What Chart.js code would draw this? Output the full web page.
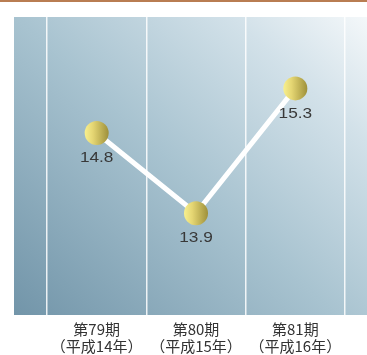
<!DOCTYPE html>
<html>
<head>
<meta charset="utf-8">
<script src="https://cdn.jsdelivr.net/npm/chart.js@4.4.1/dist/chart.umd.min.js"></script>
<style>
  html, body { margin: 0; padding: 0; background: #ffffff; }
  #wrap { width: 367px; height: 355px; position: relative; }
</style>
</head>
<body>
<div id="wrap"><canvas id="c" width="367" height="355"></canvas></div>
<script>
// Fiscal periods and their values
const periods = ['第79期', '第80期', '第81期'];
const years = ['（平成14年）', '（平成15年）', '（平成16年）'];
const values = [14.8, 13.9, 15.3];
const valueLabels = ['14.8', '13.9', '15.3'];
const yRange = [12.76, 16.1];

const JP_FONT = '"Noto Sans CJK JP", "Noto Sans", sans-serif';
const NUM_FONT = '"Liberation Sans", Arial, sans-serif';

// Panel background, brown top rule
const panelPlugin = {
  id: 'panel',
  beforeDraw(chart) {
    const { ctx, chartArea: a, width } = chart;
    ctx.save();
    ctx.fillStyle = '#b97d52';
    ctx.fillRect(0, 0, width, 2);
    const left = a.left - 33, right = width, top = a.top, bottom = a.bottom;
    const g = ctx.createLinearGradient(left, bottom, right - 20, top - 60);
    g.addColorStop(0, '#7295a9');
    g.addColorStop(0.45, '#a8c3d0');
    g.addColorStop(0.75, '#d2e1e9');
    g.addColorStop(1, '#ffffff');
    ctx.fillStyle = g;
    ctx.fillRect(left, top, right - left, bottom - top);
    ctx.restore();
  }
};

// Golden markers, value labels and two-line period labels
const markerPlugin = {
  id: 'markers',
  afterDatasetsDraw(chart) {
    const { ctx, chartArea: a } = chart;
    const meta = chart.getDatasetMeta(0);
    const xs = chart.scales.x;
    ctx.save();
    meta.data.forEach((pt) => {
      const r = 12;
      const g = ctx.createLinearGradient(pt.x - r, pt.y, pt.x + r, pt.y);
      g.addColorStop(0, '#f8f08e');
      g.addColorStop(0.35, '#e4d572');
      g.addColorStop(1, '#9e903a');
      ctx.beginPath();
      ctx.arc(pt.x, pt.y, r, 0, Math.PI * 2);
      ctx.fillStyle = g;
      ctx.fill();
    });
    ctx.fillStyle = '#383838';
    ctx.font = '15px ' + NUM_FONT;
    ctx.textAlign = 'center';
    ctx.textBaseline = 'middle';
    meta.data.forEach((pt, i) => {
      ctx.save();
      ctx.translate(pt.x, pt.y + 25);
      ctx.scale(1.15, 1);
      ctx.fillText(valueLabels[i], 0, 0);
      ctx.restore();
    });
    ctx.fillStyle = '#333333';
    ctx.font = '15px ' + JP_FONT;
    periods.forEach((p, i) => {
      const x = xs.getPixelForValue(i);
      ctx.fillText(p, x, a.bottom + 14);
      ctx.fillText(years[i], x, a.bottom + 31);
    });
    ctx.restore();
  }
};

new Chart(document.getElementById('c'), {
  type: 'line',
  data: {
    labels: periods,
    datasets: [{
      data: values,
      borderColor: '#ffffff',
      borderWidth: 5,
      pointRadius: 0,
      tension: 0
    }]
  },
  options: {
    responsive: false,
    animation: false,
    devicePixelRatio: 1,
    layout: { padding: { left: 47, right: 22, top: 17, bottom: 40 } },
    plugins: { legend: { display: false }, tooltip: { enabled: false } },
    scales: {
      x: {
        offset: true,
        grid: {
          offset: true,
          color: 'rgba(255,255,255,0.85)',
          lineWidth: 1.5,
          drawTicks: false
        },
        border: { display: false },
        ticks: { display: false }
      },
      y: {
        display: false,
        min: yRange[0],
        max: yRange[1]
      }
    }
  },
  plugins: [panelPlugin, markerPlugin]
});
</script>
</body>
</html>
